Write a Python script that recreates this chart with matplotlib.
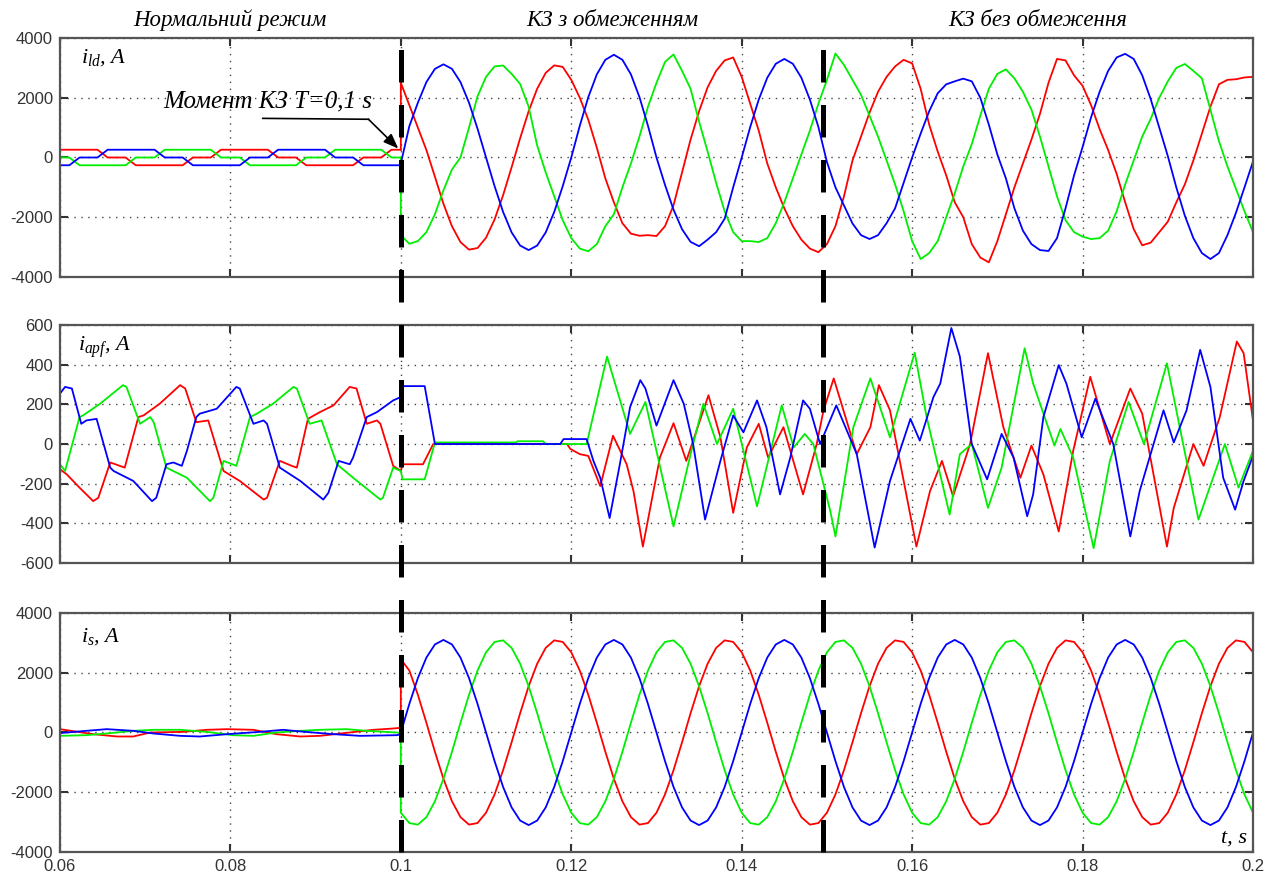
import matplotlib
matplotlib.use('Agg')
import matplotlib.pyplot as plt
from matplotlib.lines import Line2D
from matplotlib.transforms import blended_transform_factory
import numpy as np

plt.rcParams['font.family'] = ['Liberation Sans', 'DejaVu Sans']
plt.rcParams['axes.unicode_minus'] = False
plt.rcParams['mathtext.fontset'] = 'custom'
plt.rcParams['mathtext.it'] = 'Liberation Serif:italic'
plt.rcParams['mathtext.rm'] = 'Liberation Serif:italic'

# ---------------- data ----------------
# load current i_ld before the fault (six-step rectifier current)
t_ld_pre = [0.0600, 0.0611, 0.0623, 0.0644, 0.0656, 0.0677, 0.0689, 0.0711, 0.0723,
            0.0744, 0.0756, 0.0777, 0.0789, 0.0811, 0.0823, 0.0844, 0.0856, 0.0877,
            0.0889, 0.0911, 0.0923, 0.0944, 0.0956, 0.0977, 0.0989, 0.1000]
ld_red_pre = [260, 260, 260, 260, 0, 0, -260, -260, -260, -260, 0, 0, 260, 260, 260, 260,
              0, 0, -260, -260, -260, -260, 0, 0, 260, 260]
ld_blue_pre = [-260, -260, 0, 0, 260, 260, 260, 260, 0, 0, -260, -260, -260, -260, 0, 0,
               260, 260, 260, 260, 0, 0, -260, -260, -260, -260]
ld_green_pre = [0, 0, -260, -260, -260, -260, 0, 0, 260, 260, 260, 260, 0, 0, -260, -260,
                -260, -260, 0, 0, 260, 260, 260, 260, 0, 0]

# sampling grid after the fault, 1 ms step
t_post = np.linspace(0.1, 0.2, 101)

ld_blue_post = [-200, 1050, 1835, 2524, 2967, 3120, 2967, 2524, 1835, 964, 0,
                -958, -1823, -2508, -2948, -3100, -2948, -2508, -1823, -958, 0,
                1063, 2023, 2783, 3271, 3440, 3271, 2783, 2023, 1063, 0,
                -918, -1746, -2403, -2825, -2970, -2750, -2500, -2050, -1000, 0,
                1020, 1940, 2670, 3138, 3300, 3138, 2670, 1940, 1020, -150,
                -1000, -1605, -2209, -2600, -2730, -2600, -2200, -1700, -850, 0,
                800, 1550, 2150, 2450, 2550, 2640, 2550, 2000, 1100, 100,
                -700, -1700, -2450, -2900, -3100, -3130, -2700, -1700, -600, 350,
                1350, 2200, 2900, 3350, 3470, 3300, 2750, 1950, 1000, 50,
                -1000, -1950, -2700, -3200, -3400, -3200, -2600, -1850, -1000, -135]
ld_red_post = [2500, 1750, 1000, 250, -645, -1550, -2303, -2833, -3085, -3032, -2685,
               -2074, -1262, -326, 645, 1550, 2303, 2833, 3085, 3032, 2600,
               2000, 1262, 326, -700, -1500, -2200, -2550, -2620, -2600, -2630,
               -2300, -1600, -500, 600, 1550, 2350, 2900, 3250, 3350, 2700,
               1800, 900, -200, -1000, -1700, -2300, -2750, -3050, -3170, -2900,
               -2300, -1300, -100, 700, 1500, 2200, 2700, 3050, 3270, 3150,
               2300, 1100, 200, -600, -1500, -2000, -2900, -3350, -3510, -2800,
               -1900, -1000, -200, 600, 1460, 2500, 3300, 3250, 2750, 2400,
               1750, 950, 250, -550, -1500, -2400, -2940, -2850, -2500, -2150,
               -1500, -900, -100, 800, 1700, 2450, 2600, 2620, 2680, 2700]
ld_green_post = [-2600, -2890, -2800, -2500, -1900, -1100, -400, 0, 1000, 2050, 2700,
                 3050, 3080, 2800, 2460, 1700, 400, -500, -1300, -2100, -2700,
                 -3050, -3140, -2900, -2300, -1900, -1000, -200, 700, 1700, 2500,
                 3200, 3450, 2900, 2300, 1200, 200, -850, -1800, -2500, -2800,
                 -2800, -2830, -2700, -2200, -1500, -700, 100, 900, 1800, 2600,
                 3480, 3100, 2600, 2100, 1400, 700, -100, -900, -1800, -2800,
                 -3400, -3200, -2800, -2000, -1200, -300, 450, 1400, 2300, 2800,
                 2950, 2650, 2200, 1600, 700, -300, -1300, -2100, -2500, -2650,
                 -2730, -2700, -2450, -1800, -900, -100, 700, 1300, 2000, 2550,
                 3000, 3130, 2900, 2650, 1600, 550, -300, -1050, -1800, -2500]

# active power filter current i_apf (vertices of the traces)
apf_blue_t = [0.0600, 0.0606, 0.0614, 0.0625, 0.0631, 0.0643, 0.0659, 0.0663, 0.0686, 0.0708,
              0.0713, 0.0725, 0.0733, 0.0743, 0.0749, 0.0760, 0.0764, 0.0784, 0.0807, 0.0811,
              0.0827, 0.0839, 0.0843, 0.0858, 0.0882, 0.0909, 0.0915, 0.0927, 0.0940, 0.0944,
              0.0960, 0.0972, 0.0991, 0.1000, 0.1002, 0.1028, 0.1040, 0.1187, 0.1191, 0.1218,
              0.1226, 0.1234, 0.1245, 0.1257, 0.1269, 0.1281, 0.1287, 0.1300, 0.1320, 0.1332,
              0.1343, 0.1357, 0.1375, 0.1390, 0.1402, 0.1418, 0.1429, 0.1445, 0.1457, 0.1472,
              0.1480, 0.1492, 0.1511, 0.1535, 0.1556, 0.1574, 0.1598, 0.1609, 0.1625, 0.1633,
              0.1646, 0.1656, 0.1670, 0.1688, 0.1705, 0.1719, 0.1735, 0.1742, 0.1754, 0.1772,
              0.1781, 0.1799, 0.1815, 0.1836, 0.1856, 0.1867, 0.1895, 0.1907, 0.1922, 0.1938,
              0.1950, 0.1965, 0.1979, 0.1989, 0.2000]
apf_blue = [254, 288, 280, 102, 119, 127, -119, -136, -186, -288,
            -271, -102, -93, -110, -34, 136, 153, 178, 288, 280,
            102, 119, 102, -119, -186, -280, -246, -85, -102, -68,
            136, 161, 220, 237, 292, 292, 0, 0, 25, 25,
            -85, -170, -373, -102, 186, 322, 280, 93, 322, 203,
            0, -381, -85, 144, 59, 220, 85, -254, -68, 220,
            178, 0, 195, -51, -522, -186, 127, 17, 237, 305,
            585, 441, 0, -178, 51, -68, -364, -254, 136, 398,
            305, 34, 229, 0, -466, -237, 170, 8, 170, 475,
            288, -170, -331, -186, -59]

apf_red_t = [0.0600, 0.0608, 0.0623, 0.0639, 0.0645, 0.0659, 0.0665, 0.0676, 0.0692, 0.0698,
             0.0717, 0.0741, 0.0747, 0.0760, 0.0774, 0.0792, 0.0811, 0.0839, 0.0843, 0.0858,
             0.0872, 0.0878, 0.0891, 0.0905, 0.0921, 0.0940, 0.0948, 0.0960, 0.0972, 0.0976,
             0.0991, 0.1000, 0.1002, 0.1026, 0.1038, 0.1195, 0.1199, 0.1210, 0.1220, 0.1234,
             0.1249, 0.1265, 0.1273, 0.1284, 0.1304, 0.1320, 0.1335, 0.1361, 0.1375, 0.1390,
             0.1406, 0.1420, 0.1431, 0.1449, 0.1472, 0.1488, 0.1496, 0.1508, 0.1535, 0.1551,
             0.1561, 0.1574, 0.1605, 0.1621, 0.1635, 0.1648, 0.1668, 0.1689, 0.1707, 0.1727,
             0.1740, 0.1754, 0.1772, 0.1789, 0.1809, 0.1832, 0.1856, 0.1870, 0.1899, 0.1907,
             0.1930, 0.1942, 0.1961, 0.1981, 0.1989, 0.2000]
apf_red = [-127, -153, -220, -288, -271, -93, -102, -119, 136, 144,
           203, 297, 280, 110, 119, -136, -186, -280, -271, -85,
           -110, -119, 127, 161, 195, 288, 280, 102, 119, 102,
           -110, -136, -102, -102, 0, 0, -25, -51, -60, -212,
           42, -102, -237, -517, -68, 105, -85, 246, 34, -347,
           -17, 102, -68, 85, -254, 0, 170, 331, -51, 85,
           297, 170, -517, -237, -85, -263, 0, 458, 85, -170,
           -8, -153, -441, -34, 339, 0, 280, 153, -517, -322,
           0, -110, 136, 517, 458, 119]

apf_green_t = [0.0600, 0.0606, 0.0623, 0.0627, 0.0647, 0.0674, 0.0678, 0.0694, 0.0706, 0.0710,
               0.0725, 0.0749, 0.0776, 0.0780, 0.0792, 0.0807, 0.0823, 0.0831, 0.0850, 0.0874,
               0.0878, 0.0893, 0.0907, 0.0925, 0.0944, 0.0976, 0.0979, 0.0991, 0.1000, 0.1002,
               0.1028, 0.1040, 0.1135, 0.1137, 0.1167, 0.1170, 0.1218, 0.1242, 0.1269, 0.1287,
               0.1320, 0.1340, 0.1355, 0.1371, 0.1390, 0.1418, 0.1447, 0.1461, 0.1474, 0.1484,
               0.1492, 0.1504, 0.1510, 0.1531, 0.1551, 0.1574, 0.1603, 0.1617, 0.1644, 0.1656,
               0.1670, 0.1689, 0.1705, 0.1732, 0.1742, 0.1767, 0.1774, 0.1789, 0.1813, 0.1832,
               0.1854, 0.1872, 0.1899, 0.1914, 0.1936, 0.1967, 0.1983, 0.2000]
apf_green = [-102, -136, 136, 144, 203, 297, 288, 102, 136, 110,
             -119, -170, -288, -271, -85, -110, 136, 153, 203, 288,
             280, 102, 119, -102, -170, -280, -271, -119, -136, -178,
             -178, 8, 8, 14, 14, 0, 0, 441, 51, 212,
             -415, -51, 203, 0, 178, -314, 195, -17, 51, 0,
             -136, -339, -466, 85, 331, 34, 461, 136, -356, -51,
             0, -322, -119, 483, 305, -8, 76, -68, -525, -85,
             212, 0, 407, 85, -381, 0, -220, -34]

# source current i_s before the fault (small ripple)
s_red_pre_t = [0.0600, 0.0639, 0.0667, 0.0686, 0.0706, 0.0745, 0.0772, 0.0796, 0.0827,
               0.0854, 0.0882, 0.0905, 0.0940, 0.0968, 0.0991, 0.1000]
s_red_pre = [112, -56, -134, -134, 0, 22, 90, 112, 90, -56, -134, -112, 0, 90, 134, 157]
s_blue_pre_t = [0.0600, 0.0631, 0.0655, 0.0686, 0.0710, 0.0741, 0.0764, 0.0796, 0.0835,
                0.0862, 0.0874, 0.0897, 0.0921, 0.0952, 0.0995, 0.1000]
s_blue_pre = [-20, 56, 112, 56, -34, -112, -134, -56, 22, 90, 56, 0, -56, -112, -90, -60]
s_green_pre_t = [0.0600, 0.0631, 0.0659, 0.0686, 0.0710, 0.0741, 0.0772, 0.0803, 0.0827,
                 0.0854, 0.0882, 0.0905, 0.0936, 0.0960, 0.0995, 0.1000]
s_green_pre = [-112, -90, -22, 56, 90, 90, 22, -90, -112, 0, 56, 90, 112, 56, 0, -20]

# source current i_s after the fault
s_blue_post = [0, 958, 1823, 2508, 2948, 3100, 2948, 2508, 1823, 958, 0,
               -958, -1823, -2508, -2948, -3100, -2948, -2508, -1823, -958, 0,
               958, 1823, 2508, 2948, 3100, 2948, 2508, 1823, 958, 0,
               -958, -1823, -2508, -2948, -3100, -2948, -2508, -1823, -958, 0,
               958, 1823, 2508, 2948, 3100, 2948, 2508, 1823, 958, 0,
               -958, -1823, -2508, -2948, -3100, -2948, -2508, -1823, -958, 0,
               958, 1823, 2508, 2948, 3100, 2948, 2508, 1823, 958, 0,
               -958, -1823, -2508, -2948, -3100, -2948, -2508, -1823, -958, 0,
               958, 1823, 2508, 2948, 3100, 2948, 2508, 1823, 958, 0,
               -958, -1823, -2508, -2948, -3100, -2948, -2508, -1823, -958, 0]
s_red_post = [2450, 2074, 1262, 326, -645, -1550, -2303, -2833, -3085, -3032, -2685,
              -2074, -1262, -326, 645, 1550, 2303, 2833, 3085, 3032, 2685,
              2074, 1262, 326, -645, -1550, -2303, -2833, -3085, -3032, -2685,
              -2074, -1262, -326, 645, 1550, 2303, 2833, 3085, 3032, 2685,
              2074, 1262, 326, -645, -1550, -2303, -2833, -3085, -3032, -2685,
              -2074, -1262, -326, 645, 1550, 2303, 2833, 3085, 3032, 2685,
              2074, 1262, 326, -645, -1550, -2303, -2833, -3085, -3032, -2685,
              -2074, -1262, -326, 645, 1550, 2303, 2833, 3085, 3032, 2685,
              2074, 1262, 326, -645, -1550, -2303, -2833, -3085, -3032, -2685,
              -2074, -1262, -326, 645, 1550, 2303, 2833, 3085, 3032, 2685]
s_green_post = [-2685, -3032, -3085, -2833, -2303, -1550, -645, 326, 1262, 2074, 2685,
                3032, 3085, 2833, 2303, 1550, 645, -326, -1262, -2074, -2685,
                -3032, -3085, -2833, -2303, -1550, -645, 326, 1262, 2074, 2685,
                3032, 3085, 2833, 2303, 1550, 645, -326, -1262, -2074, -2685,
                -3032, -3085, -2833, -2303, -1550, -645, 326, 1262, 2074, 2685,
                3032, 3085, 2833, 2303, 1550, 645, -326, -1262, -2074, -2685,
                -3032, -3085, -2833, -2303, -1550, -645, 326, 1262, 2074, 2685,
                3032, 3085, 2833, 2303, 1550, 645, -326, -1262, -2074, -2685,
                -3032, -3085, -2833, -2303, -1550, -645, 326, 1262, 2074, 2685,
                3032, 3085, 2833, 2303, 1550, 645, -326, -1262, -2074, -2685]

fault_times = [0.1, 0.1495]
x_ticks = [0.06, 0.08, 0.1, 0.12, 0.14, 0.16, 0.18, 0.2]
x_ticklabels = ['0.06', '0.08', '0.1', '0.12', '0.14', '0.16', '0.18', '0.2']
region_titles = ['Нормальний режим', 'КЗ з обмеженням', 'КЗ без обмеження']

RED, GREEN, BLUE = '#ff0000', '#00ee00', '#0000ff'
LW = 1.3
serif = dict(family='Liberation Serif', style='italic', color='black')

fig = plt.figure(figsize=(12.73, 8.74), dpi=100)
ax1 = fig.add_axes([0.0471, 0.6831, 0.9372, 0.2734])
ax2 = fig.add_axes([0.0471, 0.3558, 0.9372, 0.2723])
ax3 = fig.add_axes([0.0471, 0.0252, 0.9372, 0.2734])

# 1. load current
ax1.plot(t_ld_pre, ld_red_pre, color=RED, lw=LW)
ax1.plot(t_ld_pre, ld_green_pre, color=GREEN, lw=LW)
ax1.plot(t_ld_pre, ld_blue_pre, color=BLUE, lw=LW)
ax1.plot(np.r_[0.1, t_post], np.r_[ld_red_pre[-1], ld_red_post], color=RED, lw=LW)
ax1.plot(np.r_[0.1, t_post], np.r_[ld_green_pre[-1], ld_green_post], color=GREEN, lw=LW)
ax1.plot(np.r_[0.1, t_post], np.r_[ld_blue_pre[-1], ld_blue_post], color=BLUE, lw=LW)

# 2. filter current
ax2.plot(apf_red_t, apf_red, color=RED, lw=LW)
ax2.plot(apf_green_t, apf_green, color=GREEN, lw=LW)
ax2.plot(apf_blue_t, apf_blue, color=BLUE, lw=LW)

# 3. source current
ax3.plot(np.r_[s_red_pre_t, t_post], np.r_[s_red_pre, s_red_post], color=RED, lw=LW)
ax3.plot(np.r_[s_green_pre_t, t_post], np.r_[s_green_pre, s_green_post], color=GREEN, lw=LW)
ax3.plot(np.r_[s_blue_pre_t, t_post], np.r_[s_blue_pre, s_blue_post], color=BLUE, lw=LW)

for ax, lim, step in [(ax1, 4000, 2000), (ax2, 600, 200), (ax3, 4000, 2000)]:
    ax.set_xlim(0.06, 0.2)
    ax.set_ylim(-lim, lim)
    ax.set_yticks(np.arange(-lim, lim + 1, step))
    ax.set_xticks(x_ticks)
    ax.grid(True, linestyle=(0, (1, 4)), color='#444444', linewidth=1.0)
    ax.tick_params(direction='in', length=6, width=1.5, top=True, right=True,
                   labelsize=12, labelcolor='#333333', color='#333333', pad=5)
    for sp in ax.spines.values():
        sp.set_color('#555555')
        sp.set_linewidth(1.6)
ax1.set_xticklabels([])
ax2.set_xticklabels([])
ax3.set_xticklabels(x_ticklabels)

# panel labels
ax1.text(0.018, 0.92, r'$i_{ld}$, A', transform=ax1.transAxes, fontsize=16, va='center', **serif)
ax2.text(0.015, 0.905, r'$i_{apf}$, A', transform=ax2.transAxes, fontsize=16, va='center', **serif)
ax3.text(0.018, 0.90, r'$i_s$, A', transform=ax3.transAxes, fontsize=16, va='center', **serif)
ax3.text(0.995, 0.06, 't, s', transform=ax3.transAxes, fontsize=16, ha='right', va='center', **serif)

# fault moment annotation
ax1.text(0.0721, 1890, 'Момент КЗ T=0,1 s', fontsize=18, ha='left', va='center', **serif)
ax1.plot([0.0838, 0.0962], [1310, 1280], color='black', lw=1.2)
ax1.annotate('', xy=(0.0997, 300), xytext=(0.0962, 1280),
             arrowprops=dict(arrowstyle='-|>,head_length=0.9,head_width=0.35',
                             color='black', lw=1.2, shrinkA=0, shrinkB=0))

# regime titles
for x, s in zip([0.181, 0.481, 0.815], region_titles):
    fig.text(x, 0.977, s, fontsize=16.5, ha='center', va='center', **serif)

# fault boundaries through all panels
tr = blended_transform_factory(ax3.transData, fig.transFigure)
for tf in fault_times:
    fig.add_artist(Line2D([tf, tf], [0.0252, 0.954], transform=tr, color='black',
                          lw=3.6, linestyle=(0, (6.5, 4.5)), zorder=10))

fig.savefig('out.png', dpi=100)
